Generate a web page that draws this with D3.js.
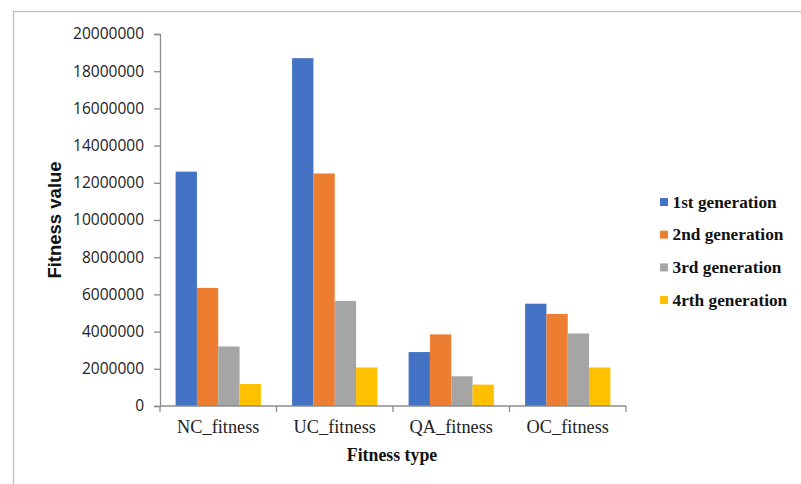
<!DOCTYPE html>
<html>
<head>
<meta charset="utf-8">
<script src="https://cdn.jsdelivr.net/npm/d3@7"></script>
<style>
  html, body { margin: 0; padding: 0; background: #fff; }
  svg { display: block; }
</style>
</head>
<body>
<svg id="chart" width="801" height="484"></svg>
<script>
// Fitness categories and generations
const categories = ["NC_fitness", "UC_fitness", "QA_fitness", "OC_fitness"];
const seriesNames = ["1st generation", "2nd generation", "3rd generation", "4rth generation"];
const seriesColors = ["#4472C4", "#ED7D31", "#A5A5A5", "#FFC000"];

// One array per generation, in category order
const gen1 = [12600000, 18700000, 2900000, 5500000];
const gen2 = [6350000, 12500000, 3850000, 4950000];
const gen3 = [3200000, 5650000, 1600000, 3900000];
const gen4 = [1180000, 2070000, 1150000, 2070000];
const seriesValues = [gen1, gen2, gen3, gen4];

const yTicks = [0, 2000000, 4000000, 6000000, 8000000, 10000000, 12000000, 14000000, 16000000, 18000000, 20000000];

const svg = d3.select("#chart");

// Outer chart frame
svg.append("rect")
  .attr("x", 13.5).attr("y", 11.5)
  .attr("width", 900).attr("height", 600)
  .attr("fill", "none").attr("stroke", "#bdbdbd").attr("stroke-width", 1.2);

const plot = { left: 160, right: 626, top: 34, bottom: 406 };

const x0 = d3.scaleBand()
  .domain(categories)
  .range([plot.left, plot.right])
  .paddingInner(0.268)
  .paddingOuter(0.134);

const x1 = d3.scaleBand()
  .domain(d3.range(seriesNames.length))
  .range([0, x0.bandwidth()]);

const y = d3.scaleLinear()
  .domain([0, 20000000])
  .range([plot.bottom, plot.top]);

// Bars
const groups = svg.append("g").selectAll("g")
  .data(categories)
  .join("g")
  .attr("transform", d => `translate(${x0(d)},0)`);

groups.selectAll("rect")
  .data((c, ci) => seriesValues.map((vals, si) => ({ si, v: vals[ci] })))
  .join("rect")
  .attr("x", d => x1(d.si))
  .attr("width", x1.bandwidth())
  .attr("y", d => y(d.v))
  .attr("height", d => y(0) - y(d.v))
  .attr("fill", d => seriesColors[d.si]);

// Y axis
const yAxis = svg.append("g")
  .attr("transform", `translate(${plot.left},0)`)
  .call(d3.axisLeft(y).tickValues(yTicks).tickFormat(d3.format("d")).tickSize(6).tickPadding(10));
yAxis.select(".domain").attr("stroke", "#8c8c8c").attr("stroke-width", 1.3);
yAxis.selectAll(".tick line").attr("stroke", "#8c8c8c").attr("stroke-width", 1.3);
yAxis.selectAll(".tick text")
  .attr("font-family", "'Open Sans', 'Liberation Sans', sans-serif")
  .attr("font-size", 15.5)
  .attr("fill", "#222");

// X axis with ticks at category boundaries
const xAxisG = svg.append("g").attr("transform", `translate(0,${plot.bottom})`);
xAxisG.append("line")
  .attr("x1", plot.left).attr("x2", plot.right)
  .attr("y1", 0).attr("y2", 0)
  .attr("stroke", "#8c8c8c").attr("stroke-width", 1.3);
const step = x0.step();
xAxisG.selectAll("line.sep")
  .data(d3.range(categories.length + 1))
  .join("line")
  .attr("class", "sep")
  .attr("x1", i => plot.left + i * step).attr("x2", i => plot.left + i * step)
  .attr("y1", 0).attr("y2", 6)
  .attr("stroke", "#8c8c8c").attr("stroke-width", 1.3);
xAxisG.selectAll("text")
  .data(categories)
  .join("text")
  .attr("x", d => x0(d) + x0.bandwidth() / 2)
  .attr("y", 27)
  .attr("text-anchor", "middle")
  .attr("font-family", "'Liberation Serif', 'Times New Roman', serif")
  .attr("font-size", 18.3)
  .attr("fill", "#222")
  .text(d => d);

// Axis titles
svg.append("text")
  .attr("x", 392).attr("y", 461)
  .attr("text-anchor", "middle")
  .attr("font-family", "'Liberation Serif', 'Times New Roman', serif")
  .attr("font-weight", "bold")
  .attr("font-size", 17.8)
  .attr("fill", "#111")
  .text("Fitness type");

svg.append("text")
  .attr("transform", `translate(61,${(plot.top + plot.bottom) / 2}) rotate(-90)`)
  .attr("text-anchor", "middle")
  .attr("font-family", "'Liberation Sans', Arial, sans-serif")
  .attr("font-weight", "bold")
  .attr("font-size", 18.5)
  .attr("fill", "#111")
  .text("Fitness value");

// Legend
const legend = svg.append("g").attr("transform", "translate(660,202)");
const rows = legend.selectAll("g")
  .data(seriesNames)
  .join("g")
  .attr("transform", (d, i) => `translate(0,${i * 32.7})`);
rows.append("rect")
  .attr("x", 0).attr("y", -4)
  .attr("width", 8).attr("height", 8)
  .attr("fill", (d, i) => seriesColors[i]);
rows.append("text")
  .attr("x", 12.5).attr("y", 5.5)
  .attr("font-family", "'Liberation Serif', 'Times New Roman', serif")
  .attr("font-weight", "bold")
  .attr("font-size", 17.3)
  .attr("fill", "#111")
  .text(d => d);
</script>
</body>
</html>
